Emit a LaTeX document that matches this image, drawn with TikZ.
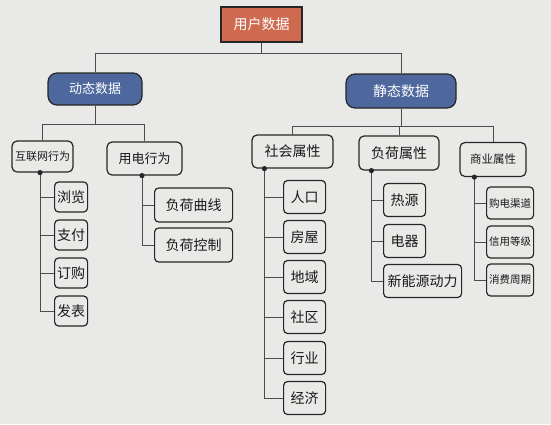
\documentclass[tikz,border=0pt]{standalone}
\usepackage{fontspec}
\setmainfont{Noto Sans CJK SC}
\begin{document}
\begin{tikzpicture}[x=1pt,y=-1pt,
  bx/.style={draw=black!85, line width=1.2pt, inner sep=0pt, align=center, text=black!90, fill=pagebg},
  rootbox/.style={bx, fill=rootred, text=white, minimum width=81pt, minimum height=35pt, font=\fontsize{14}{14}\selectfont},
  topbox/.style={bx, fill=topblue, text=white, rounded corners=9pt, font=\fontsize{13}{13}\selectfont},
  midbox/.style={bx, rounded corners=5pt, font=\fontsize{14}{14}\selectfont},
  leafbox/.style={bx, rounded corners=4pt, anchor=west, minimum height=33pt, font=\fontsize{14}{14}\selectfont},
  conn/.style={draw=black!70, line width=0.8pt},
  jdot/.style={fill=black!85, draw=none}
]
\definecolor{pagebg}{RGB}{233,233,231}
\definecolor{rootred}{RGB}{205,106,80}
\definecolor{topblue}{RGB}{78,104,158}
\fill[pagebg] (0,0) rectangle (551,424);
\useasboundingbox (0,0) rectangle (551,424);

% root and top level
\node[rootbox] (root) at (261.5,24.5) {用户数据};
\node[topbox, minimum width=94pt, minimum height=32pt] (dyn) at (95,89) {动态数据};
\node[topbox, minimum width=110pt, minimum height=34pt, font=\fontsize{14}{14}\selectfont] (sta) at (401,91) {静态数据};

% second level
\node[midbox, minimum width=61pt, minimum height=31pt, font=\fontsize{11}{11}\selectfont] (hw) at (42.5,156.5) {互联网行为};
\node[midbox, minimum width=75pt, minimum height=33pt, font=\fontsize{13}{13}\selectfont] (yd) at (144.5,158.5) {用电行为};
\node[midbox, minimum width=81pt, minimum height=33pt] (sh) at (292.5,151.5) {社会属性};
\node[midbox, minimum width=80pt, minimum height=34pt] (fh) at (399,153) {负荷属性};
\node[midbox, minimum width=66pt, minimum height=34pt, font=\fontsize{11.5}{11.5}\selectfont] (sy) at (493,159.5) {商业属性};

% leaves: 互联网行为
\node[leafbox, minimum width=33pt, minimum height=30pt] (l1) at (54,197) {浏览};
\node[leafbox, minimum width=33pt, minimum height=30pt] (l2) at (54,235) {支付};
\node[leafbox, minimum width=33pt, minimum height=30pt] (l3) at (54,273) {订购};
\node[leafbox, minimum width=33pt, minimum height=30pt] (l4) at (54,311) {发表};
% leaves: 用电行为
\node[leafbox, minimum width=78pt, minimum height=34pt] (m1) at (154,205) {负荷曲线};
\node[leafbox, minimum width=78pt, minimum height=34pt] (m2) at (154,245) {负荷控制};
% leaves: 社会属性
\node[leafbox, minimum width=42pt] (s1) at (283,197) {人口};
\node[leafbox, minimum width=42pt] (s2) at (283,237) {房屋};
\node[leafbox, minimum width=42pt] (s3) at (283,277) {地域};
\node[leafbox, minimum width=42pt] (s4) at (283,317) {社区};
\node[leafbox, minimum width=42pt] (s5) at (283,358) {行业};
\node[leafbox, minimum width=42pt] (s6) at (283,398) {经济};
% leaves: 负荷属性
\node[leafbox, minimum width=42pt] (f1) at (383,200) {热源};
\node[leafbox, minimum width=42pt] (f2) at (383,241) {电器};
\node[leafbox, minimum width=78pt] (f3) at (383,281) {新能源动力};
% leaves: 商业属性
\node[leafbox, minimum width=47pt, minimum height=32pt, font=\fontsize{10.5}{10.5}\selectfont] (c1) at (486,203) {购电渠道};
\node[leafbox, minimum width=47pt, minimum height=32pt, font=\fontsize{10.5}{10.5}\selectfont] (c2) at (486,242) {信用等级};
\node[leafbox, minimum width=47pt, minimum height=32pt, font=\fontsize{10.5}{10.5}\selectfont] (c3) at (486,280) {消费周期};

% buses
\coordinate (b0) at (0,53);
\coordinate (b1) at (0,124);
\coordinate (b2) at (0,126);
\draw[conn] (root.south) -- (root.south |- b0);
\draw[conn] (dyn.north) -- (dyn.north |- b0) -- (sta.north |- b0) -- (sta.north);
\draw[conn] (dyn.south) -- (dyn.south |- b1);
\draw[conn] (hw.north) -- (hw.north |- b1) -- (yd.north |- b1) -- (yd.north);
\draw[conn] (sta.south) -- (sta.south |- b2);
\draw[conn] (sh.north) -- (sh.north |- b2) -- (sy.north |- b2) -- (sy.north);
\draw[conn] (fh.north |- b2) -- (fh.north);

% trunks
\coordinate (t1) at ([xshift=-2.5pt]hw.south);
\coordinate (t2) at ([xshift=-2.5pt]yd.south);
\coordinate (t3) at ([xshift=13pt]sh.south west);
\coordinate (t4) at ([xshift=13pt]fh.south west);
\coordinate (t5) at ([xshift=15pt]sy.south west);
\foreach \c in {l1,l2,l3,l4} \draw[conn] (t1) |- (\c.west);
\foreach \c in {m1,m2} \draw[conn] (t2) |- (\c.west);
\foreach \c in {s1,s2,s3,s4,s5,s6} \draw[conn] (t3) |- (\c.west);
\foreach \c in {f1,f2,f3} \draw[conn] (t4) |- (\c.west);
\foreach \c in {c1,c2,c3} \draw[conn] (t5) |- (\c.west);
\foreach \t in {t1,t2,t3,t4,t5} \fill[jdot] (\t) circle (2.6pt);
\end{tikzpicture}
\end{document}
